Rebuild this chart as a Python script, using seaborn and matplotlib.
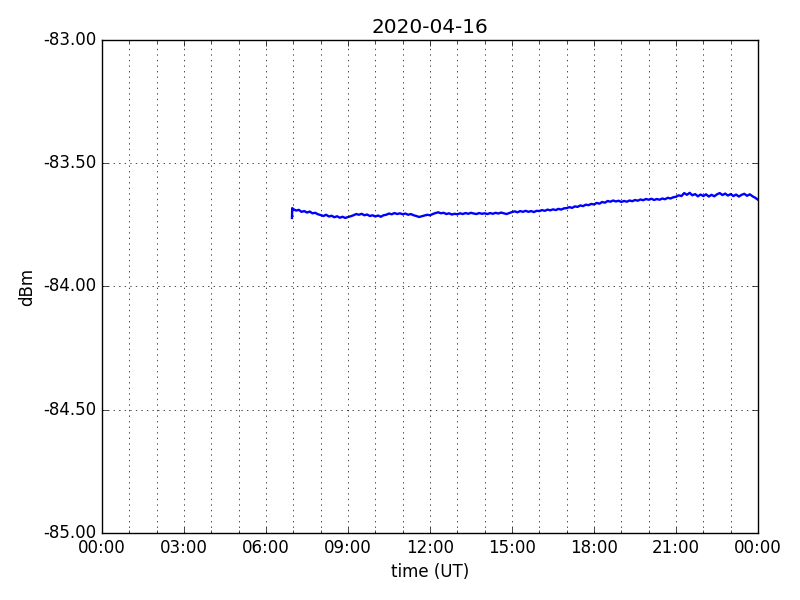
import numpy as np
import pandas as pd
import seaborn as sns
import matplotlib
matplotlib.use('Agg')
import matplotlib.pyplot as plt
import matplotlib.dates as mdates
from matplotlib.ticker import FormatStrFormatter

### DATA ###
day = '2020-04-16'
title = '2020-04-16'

# the trace starts just before 07:00 with a small step
start_hours = [6.95, 6.96]
start_dbm = [-83.722, -83.682]

# one reading every 6 minutes from 07:00 to 23:54, then the last one at 24:00
dbm = [
    -83.686, -83.692, -83.689, -83.697, -83.694, -83.700, -83.696, -83.703, -83.701, -83.707,  # 07h
    -83.710, -83.714, -83.709, -83.716, -83.713, -83.719, -83.715, -83.721, -83.717, -83.722,  # 08h
    -83.718, -83.715, -83.711, -83.706, -83.709, -83.705, -83.711, -83.708, -83.714, -83.711,  # 09h
    -83.716, -83.712, -83.717, -83.711, -83.709, -83.704, -83.707, -83.702, -83.706, -83.703,  # 10h
    -83.707, -83.704, -83.709, -83.706, -83.711, -83.714, -83.718, -83.715, -83.712, -83.709,  # 11h
    -83.711, -83.706, -83.702, -83.699, -83.703, -83.701, -83.706, -83.703, -83.708, -83.705,  # 12h
    -83.707, -83.703, -83.706, -83.702, -83.705, -83.701, -83.704, -83.706, -83.702, -83.705,  # 13h
    -83.703, -83.706, -83.702, -83.705, -83.701, -83.704, -83.700, -83.703, -83.706, -83.702,  # 14h
    -83.698, -83.695, -83.699, -83.694, -83.697, -83.693, -83.697, -83.694, -83.698, -83.693,  # 15h
    -83.694, -83.690, -83.693, -83.688, -83.691, -83.687, -83.690, -83.685, -83.688, -83.683,  # 16h
    -83.682, -83.678, -83.681, -83.675, -83.677, -83.671, -83.674, -83.668, -83.670, -83.665,  # 17h
    -83.667, -83.661, -83.664, -83.657, -83.660, -83.653, -83.656, -83.651, -83.655, -83.652,  # 18h
    -83.657, -83.653, -83.656, -83.651, -83.654, -83.649, -83.652, -83.647, -83.650, -83.645,  # 19h
    -83.648, -83.644, -83.649, -83.645, -83.648, -83.643, -83.646, -83.640, -83.643, -83.638,  # 20h
    -83.636, -83.630, -83.633, -83.621, -83.628, -83.620, -83.630, -83.625, -83.634, -83.627,  # 21h
    -83.633, -83.626, -83.635, -83.628, -83.634, -83.626, -83.621, -83.629, -83.623, -83.631,  # 22h
    -83.625, -83.633, -83.627, -83.635, -83.628, -83.624, -83.632, -83.626, -83.634, -83.640,  # 23h
    -83.648,
]
hours = start_hours + list(np.round(np.arange(len(dbm)) * 0.1 + 7.0, 2))
values = start_dbm + dbm

df = pd.DataFrame({'time': pd.Timestamp(day) + pd.to_timedelta(hours, unit='h'),
                   'dBm': values})

### PLOT ###
plt.style.use('classic')
fig = plt.figure(figsize=(8, 6), dpi=100, facecolor='white')
ax = fig.add_axes([0.1275, 0.1117, 0.82, 0.8216])

sns.lineplot(data=df, x='time', y='dBm', color='b', lw=1.7, ax=ax)

ax.set_xlim(pd.Timestamp(day), pd.Timestamp(day) + pd.Timedelta(days=1))
ax.set_ylim(-85, -83)
ax.xaxis.set_major_locator(mdates.HourLocator(interval=3))
ax.xaxis.set_minor_locator(mdates.HourLocator())
ax.xaxis.set_major_formatter(mdates.DateFormatter('%H:%M'))
ax.yaxis.set_major_locator(plt.MultipleLocator(0.5))
ax.yaxis.set_major_formatter(FormatStrFormatter('%.2f'))
ax.grid(True, which='major')
ax.xaxis.grid(True, which='minor')

ax.set_xlabel('time (UT)')
ax.set_ylabel('dBm')
ax.set_title(title)

fig.savefig('out.png', dpi=100, facecolor='white')
